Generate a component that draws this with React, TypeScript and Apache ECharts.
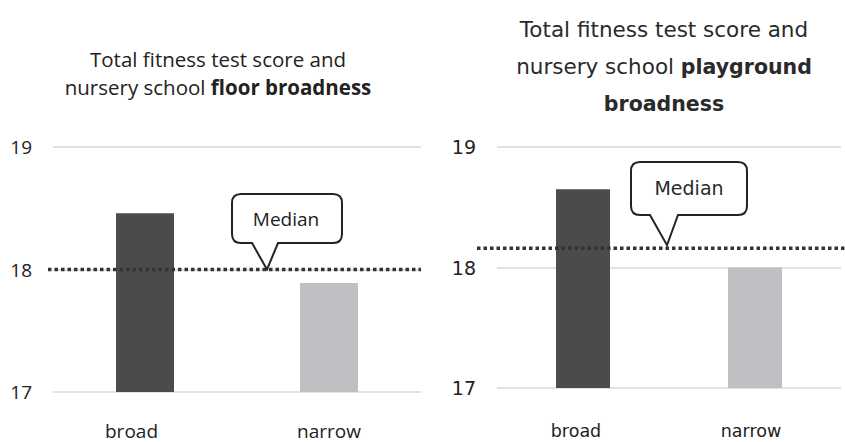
import React, { useEffect, useRef } from "react";
import * as echarts from "echarts";

const categories = ["broad", "narrow"];
const floorValues = [18.46, 17.89];
const playgroundValues = [18.65, 18.0];
const floorMedian = 18.0;
const playgroundMedian = 18.16;
const yMin = 17;
const yMax = 19;
const yInterval = 1;
const barColors = ["#4a4b4d", "#bfc0c3"];

function calloutPath(bx: number, by: number, bw: number, bh: number, r: number, p1: number, p2: number, tx: number, ty: number) {
  const R = bx + bw;
  const B = by + bh;
  return [
    `M${bx + r},${by}`,
    `L${R - r},${by}`,
    `Q${R},${by} ${R},${by + r}`,
    `L${R},${B - r}`,
    `Q${R},${B} ${R - r},${B}`,
    `L${p2},${B}`,
    `L${tx},${ty}`,
    `L${p1},${B}`,
    `L${bx + r},${B}`,
    `Q${bx},${B} ${bx},${B - r}`,
    `L${bx},${by + r}`,
    `Q${bx},${by} ${bx + r},${by}`,
    "Z",
  ].join(" ");
}

export default function App() {
  const ref = useRef<HTMLDivElement>(null);
  useEffect(() => {
    if (!ref.current) return;
    const chart = echarts.init(ref.current, null, { renderer: "svg" });
    const leftFont = "'Open Sans', sans-serif";
    const rightFont = "'DejaVu Sans', sans-serif";
    const mkBar = (vals: number[], idx: number, w: number) => ({
      type: "bar",
      xAxisIndex: idx,
      yAxisIndex: idx,
      barWidth: w,
      data: vals.map((v, i) => ({ value: v, itemStyle: { color: barColors[i] } })),
    });
    const xLabel = (i: number) => ({
      interval: 0,
      hideOverlap: false,
      margin: i === 0 ? 29 : 34,
      fontSize: i === 0 ? 19 : 17.5,
      fontFamily: i === 0 ? leftFont : rightFont,
      color: "#222",
      formatter: (v: string) => `{${v}|${v}}`,
      rich:
        i === 0
          ? {
              broad: { fontSize: 19, fontFamily: leftFont, color: "#222", padding: [0, 27, 0, 0] },
              narrow: { fontSize: 19, fontFamily: leftFont, color: "#222" },
            }
          : {
              broad: { fontSize: 17.5, fontFamily: rightFont, color: "#222", padding: [0, 14, 0, 0] },
              narrow: { fontSize: 17.5, fontFamily: rightFont, color: "#222", padding: [0, 8, 0, 0] },
            },
    });
    chart.setOption({
      animation: false,
      title: [
        {
          left: 213,
          top: 40,
          textAlign: "center",
          text: "{n|Total fitness test score and}\n{n|nursery school }{b|floor broadness}",
          textStyle: {
            fontWeight: "normal",
            rich: {
              n: { fontFamily: leftFont, fontSize: 20.5, fontWeight: "normal", color: "#222", lineHeight: 28 },
              b: { fontFamily: leftFont, fontSize: 20.5, fontWeight: "bold", color: "#222", lineHeight: 28 },
            },
          },
        },
        {
          left: 659,
          top: 6,
          textAlign: "center",
          text: "{n|Total fitness test score and}\n{n|nursery school }{b|playground}\n{b|broadness}",
          textStyle: {
            fontWeight: "normal",
            rich: {
              n: { fontFamily: rightFont, fontSize: 21.5, fontWeight: "normal", color: "#2a2a2a", lineHeight: 37 },
              b: { fontFamily: rightFont, fontSize: 20.5, fontWeight: "bold", color: "#2a2a2a", lineHeight: 37 },
            },
          },
        },
      ],
      grid: [
        { left: 53, right: 424, top: 147, bottom: 50 },
        { left: 497, right: 4, top: 147, bottom: 54 },
      ],
      xAxis: [0, 1].map((i) => ({
        type: "category",
        gridIndex: i,
        data: categories,
        axisLine: { show: false },
        axisTick: { show: false },
        axisLabel: xLabel(i),
      })),
      yAxis: [0, 1].map((i) => ({
        type: "value",
        gridIndex: i,
        min: yMin,
        max: yMax,
        interval: yInterval,
        axisLine: { show: false },
        axisTick: { show: false },
        splitLine: { lineStyle: { color: "#d9d9d9", width: 1.5 } },
        axisLabel: {
          margin: 21,
          fontSize: 19,
          fontFamily: i === 0 ? leftFont : rightFont,
          color: "#222",
        },
      })),
      series: [mkBar(floorValues, 0, 58), mkBar(playgroundValues, 1, 54)],
    });

    const yL = chart.convertToPixel({ yAxisIndex: 0 }, floorMedian) as number;
    const yR = chart.convertToPixel({ yAxisIndex: 1 }, playgroundMedian) as number;

    echarts.graphic.registerShape(
      "calloutL",
      echarts.graphic.extendPath(calloutPath(232, 194, 110, 49, 9, 252, 278, 267, yL), {})
    );
    echarts.graphic.registerShape(
      "calloutR",
      echarts.graphic.extendPath(calloutPath(631, 162, 116, 53, 9, 650, 678, 667, yR - 3), {})
    );

    chart.setOption({
      graphic: [
        {
          type: "line",
          shape: { x1: 48, y1: yL, x2: 421, y2: yL },
          style: { stroke: "#333", lineWidth: 3.5, lineDash: [3.5, 3] },
          z: 10,
        },
        {
          type: "line",
          shape: { x1: 477, y1: yR, x2: 845, y2: yR },
          style: { stroke: "#333", lineWidth: 3.5, lineDash: [3.5, 3] },
          z: 10,
        },
        {
          type: "calloutL",
          x: 0,
          y: 0,
          style: { fill: "#fff", stroke: "#222", lineWidth: 2 },
          z: 11,
        },
        {
          type: "calloutR",
          x: 0,
          y: 0,
          style: { fill: "#fff", stroke: "#222", lineWidth: 2 },
          z: 11,
        },
        {
          type: "text",
          x: 286,
          y: 219,
          style: {
            text: "Median",
            fontFamily: leftFont,
            fontSize: 19,
            fill: "#222",
            align: "center",
            verticalAlign: "middle",
          },
          z: 12,
        },
        {
          type: "text",
          x: 689,
          y: 188,
          style: {
            text: "Median",
            fontFamily: rightFont,
            fontSize: 19,
            fill: "#2a2a2a",
            align: "center",
            verticalAlign: "middle",
          },
          z: 12,
        },
      ],
    });
    return () => chart.dispose();
  }, []);
  return (
    <div
      ref={ref}
      style={{ position: "absolute", left: 0, top: 0, width: 845, height: 442, background: "#fff" }}
    />
  );
}
